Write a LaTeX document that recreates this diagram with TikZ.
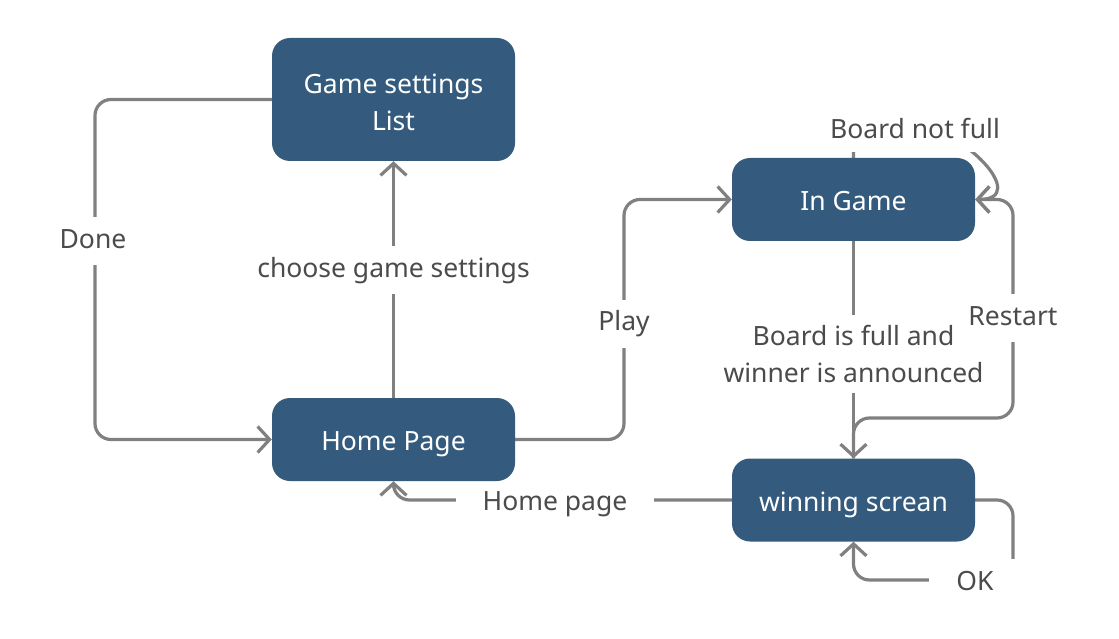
\documentclass[tikz,border=0pt]{standalone}
\usepackage{fontspec}
\setmainfont{Noto Sans}
\usetikzlibrary{arrows.meta}
\definecolor{boxblue}{RGB}{52,91,125}
\definecolor{edgegrey}{RGB}{128,128,128}
\definecolor{labelgrey}{RGB}{75,75,75}
\pgfdeclarelayer{background}
\pgfsetlayers{background,main}
\tikzset{
  state/.style={rectangle, rounded corners=18pt, fill=boxblue, text=white,
    minimum width=243pt, minimum height=83pt, align=center,
    text height=25pt, text depth=3pt,
    font=\fontsize{26.5}{37}\selectfont},
  edge/.style={draw=edgegrey, line width=3.2pt, rounded corners=16pt,
    -{Straight Barb[length=12pt,width=26pt]}},
  lblbase/.style={fill=white, text=labelgrey, inner xsep=27pt, inner ysep=12pt,
    align=center, font=\fontsize{26.5}{37}\selectfont},
  lbl/.style={lblbase, text height=19pt, text depth=5pt}
}
\begin{document}
\begin{tikzpicture}[x=1pt,y=-1pt]
\useasboundingbox (0,0) rectangle (1119,639);
% states
\node[state, minimum height=123pt, text height=40pt, text depth=16.6pt] (gs) at (393.5,99.5)
  {\begin{tabular}{@{}c@{}}Game settings\\List\end{tabular}};
\node[state] (hp) at (393.5,439.5) {Home Page};
\node[state] (ig) at (853.5,199.5) {In Game};
\node[state] (ws) at (853.5,500) {winning screan};
\begin{pgfonlayer}{background}
% edges
\draw[edge] (gs.west) -- (95,99.5) |- (hp.west);
\draw[edge] (hp.north) -- (gs.south);
\draw[edge] (hp.east) -- (624,439.5) |- (ig.west);
\draw[edge] (ig.south) -- (ws.north);
\draw[edge] (ws.north) -- (853.5,418) -- (1013,418) |- (ig.east);
\draw[edge] (ig.north) -- (853.5,130) -- (900,130) .. controls (960,125) and (1032,199.5) .. (ig.east);
\draw[edge] (ws.west) -| (hp.south);
\draw[edge] (ws.east) -- (1013,500) -- (1013,580) -| (ws.south);
% labels
\node[lbl] (ldone) at (93,241.3) {Done};
\node[lbl] (lchoose) at (393.5,270) {choose game settings};
\node[lbl] (lplay) at (624,323.7) {Play};
\node[lblbase, inner xsep=8pt, inner ysep=10pt] (lfull) at (853.5,354) {Board is full and\\winner is announced};
\node[lbl, inner xsep=6pt] (lrestart) at (1013,318) {Restart};
\node[lbl, inner xsep=10pt, inner ysep=9pt] (lnotfull) at (915,131.3) {Board not full};
\node[lbl] (lhome) at (555,503) {Home page};
\node[lbl] (lok) at (975,583) {OK};
\end{pgfonlayer}
\end{tikzpicture}
\end{document}
